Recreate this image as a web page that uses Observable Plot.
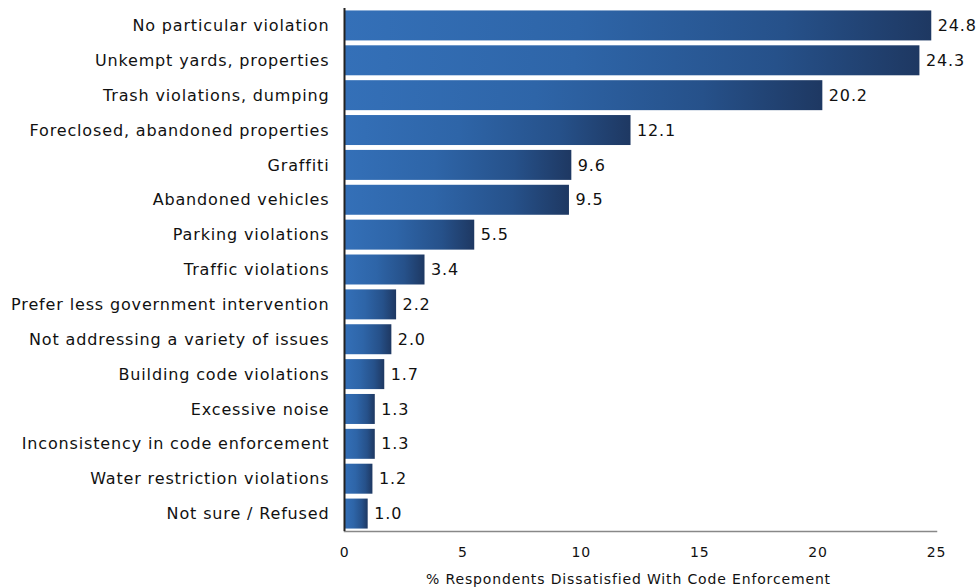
<!DOCTYPE html>
<html>
<head>
<meta charset="utf-8">
<script src="https://cdn.jsdelivr.net/npm/d3@7"></script>
<script src="https://cdn.jsdelivr.net/npm/@observablehq/plot@0.6"></script>
<style>
  html, body { margin: 0; padding: 0; background: #fff; }
  #chart svg { display: block; }
  #chart svg text { letter-spacing: 0.85px; }
</style>
</head>
<body>
<div id="chart"></div>
<script>
const categories = [
  "No particular violation",
  "Unkempt yards, properties",
  "Trash violations, dumping",
  "Foreclosed, abandoned properties",
  "Graffiti",
  "Abandoned vehicles",
  "Parking violations",
  "Traffic violations",
  "Prefer less government intervention",
  "Not addressing a variety of issues",
  "Building code violations",
  "Excessive noise",
  "Inconsistency in code enforcement",
  "Water restriction violations",
  "Not sure / Refused"
];
const values = [24.8, 24.3, 20.2, 12.1, 9.6, 9.5, 5.5, 3.4, 2.2, 2.0, 1.7, 1.3, 1.3, 1.2, 1.0];
const xTicks = [0, 5, 10, 15, 20, 25];
const xLabel = "% Respondents Dissatisfied With Code Enforcement";

const data = categories.map((c, i) => ({category: c, value: values[i]}));
const font = "DejaVu Sans, sans-serif";

const chart = Plot.plot({
  width: 980,
  height: 588,
  marginLeft: 344,
  marginRight: 44,
  marginTop: 8,
  marginBottom: 57,
  style: {fontFamily: font, background: "#fff"},
  x: {domain: [0, 25], ticks: xTicks, label: null},
  y: {domain: categories, label: null, paddingInner: 0.14, paddingOuter: 0.07, round: false},
  marks: [
    () => {
      const svg = d3.create("svg:g");
      const g = svg.append("defs").append("linearGradient")
        .attr("id", "barGrad").attr("x1", 0).attr("x2", 1).attr("y1", 0).attr("y2", 0);
      g.append("stop").attr("offset", "0%").attr("stop-color", "#3470b8");
      g.append("stop").attr("offset", "40%").attr("stop-color", "#2e65a8");
      g.append("stop").attr("offset", "75%").attr("stop-color", "#26518a");
      g.append("stop").attr("offset", "100%").attr("stop-color", "#1e3862");
      return svg.node();
    },
    Plot.barX(data, {x: "value", y: "category", fill: "url(#barGrad)"}),
    Plot.text(data, {
      x: "value", y: "category", text: d => d.value.toFixed(1),
      textAnchor: "start", dx: 6, fontSize: 16, fill: "#111", fontFamily: font
    }),
    Plot.frame({anchor: "bottom", stroke: "#888", strokeWidth: 1.5}),
    Plot.ruleX([0], {stroke: "#222", strokeWidth: 2}),
    Plot.axisY({tickSize: 0, tickPadding: 15, fontSize: 16, label: null, fill: "#111"}),
    Plot.axisX({ticks: xTicks, tickSize: 0, tickPadding: 16, fontSize: 14, label: null, fill: "#111"}),
    Plot.text([xLabel], {
      frameAnchor: "bottom", dx: -12, dy: 52, fontSize: 14, fill: "#111", fontFamily: font
    })
  ]
});
document.getElementById("chart").appendChild(chart);
</script>
</body>
</html>
